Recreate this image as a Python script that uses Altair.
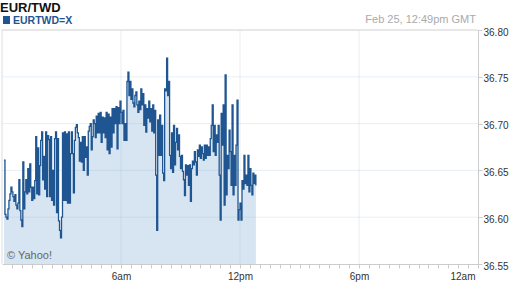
import altair as alt
import pandas as pd

# EUR/TWD intraday quotes, one every 3 minutes from 00:06 GMT
values = [
    36.661, 36.603, 36.600, 36.598, 36.609, 36.618, 36.625, 36.632, 36.627, 36.622,  # x3-12
    36.617, 36.624, 36.613, 36.609, 36.615, 36.640, 36.607, 36.597, 36.590, 36.659,  # x13-22
    36.609, 36.627, 36.640, 36.625, 36.652, 36.627, 36.657, 36.632, 36.618, 36.632,  # x23-32
    36.620, 36.639, 36.686, 36.625, 36.674, 36.624, 36.655, 36.682, 36.691, 36.640,  # x33-42
    36.665, 36.630, 36.691, 36.622, 36.687, 36.683, 36.622, 36.686, 36.618, 36.650,  # x43-52
    36.613, 36.684, 36.691, 36.605, 36.684, 36.596, 36.586, 36.578, 36.600, 36.690,  # x53-62
    36.618, 36.691, 36.618, 36.689, 36.615, 36.691, 36.615, 36.668, 36.691, 36.668,  # x63-72
    36.626, 36.682, 36.696, 36.699, 36.690, 36.685, 36.660, 36.680, 36.659, 36.686,  # x73-82
    36.650, 36.686, 36.664, 36.675, 36.645, 36.692, 36.697, 36.700, 36.672, 36.686,  # x83-92
    36.704, 36.700, 36.685, 36.708, 36.690, 36.711, 36.690, 36.712, 36.680, 36.707,  # x93-102
    36.690, 36.706, 36.685, 36.712, 36.672, 36.710, 36.668, 36.707, 36.675, 36.716,  # x103-112
    36.690, 36.716, 36.700, 36.718, 36.673, 36.717, 36.700, 36.724, 36.712, 36.700,  # x113-122
    36.714, 36.682, 36.700, 36.682, 36.745, 36.755, 36.730, 36.745, 36.726, 36.737,  # x123-132
    36.722, 36.718, 36.730, 36.734, 36.720, 36.712, 36.724, 36.715, 36.737, 36.720,  # x133-142
    36.732, 36.698, 36.720, 36.691, 36.716, 36.706, 36.724, 36.702, 36.716, 36.692,  # x143-152
    36.720, 36.690, 36.714, 36.645, 36.586, 36.704, 36.666, 36.709, 36.666, 36.698,  # x153-162
    36.647, 36.639, 36.737, 36.735, 36.770, 36.730, 36.745, 36.666, 36.652, 36.690,  # x163-172
    36.648, 36.698, 36.656, 36.680, 36.695, 36.672, 36.688, 36.665, 36.652, 36.666,  # x173-182
    36.649, 36.640, 36.623, 36.656, 36.645, 36.655, 36.634, 36.656, 36.617, 36.652,  # x183-192
    36.660, 36.656, 36.670, 36.659, 36.645, 36.672, 36.665, 36.677, 36.663, 36.675,  # x193-202
    36.668, 36.661, 36.677, 36.663, 36.677, 36.666, 36.675, 36.666, 36.684, 36.698,  # x203-212
    36.720, 36.670, 36.698, 36.666, 36.688, 36.680, 36.698, 36.645, 36.597, 36.711,  # x213-222
    36.677, 36.720, 36.613, 36.752, 36.624, 36.666, 36.652, 36.693, 36.670, 36.634,  # x223-232
    36.720, 36.624, 36.666, 36.634, 36.677, 36.725, 36.597, 36.608, 36.615, 36.597,  # x233-242
    36.639, 36.630, 36.666, 36.636, 36.645, 36.634, 36.666, 36.627, 36.652, 36.634,  # x243-252
    36.624, 36.647, 36.636, 36.645, 36.634,                                          # x253-257
]
minutes = [3 * (i + 2) for i in range(len(values))]
hours = [m / 60 for m in minutes]

y_ticks = [36.55, 36.60, 36.65, 36.70, 36.75, 36.80]
y_grid = [36.60, 36.65, 36.70, 36.75]
x_grid_hours = [6, 12, 18]
x_tick_hours = [k / 2 for k in range(1, 49)]
BASE = 36.55

FONT = "Liberation Sans"
LINE = "#1f5591"
FILL = "#d6e5f1"

df = pd.DataFrame({"h": hours, "v": values})

xs = alt.Scale(domain=[0, 24], nice=False, zero=False)
ys = alt.Scale(domain=[36.55, 36.80], nice=False, zero=False)

label_expr = ("datum.value == 6 ? '6am' : datum.value == 12 ? '12pm' : "
              "datum.value == 18 ? '6pm' : datum.value == 24 ? '12am' : ''")

x_axis = alt.Axis(values=x_tick_hours, labelExpr=label_expr, grid=False,
                  domainColor="#cccccc", tickColor="#cccccc", tickSize=4,
                  labelFontSize=10, labelColor="#333333", labelPadding=3,
                  labelFont=FONT, labelOverlap=False, labelFlush=True,
                  labelFlushOffset=-3, title=None)
y_axis = alt.Axis(orient="right", values=y_ticks, format=".2f", grid=False,
                  domainColor="#cccccc", tickColor="#cccccc", tickSize=4,
                  labelFontSize=10, labelColor="#333333", labelPadding=1,
                  labelFont=FONT, labelOffset=2, title=None)

area = alt.Chart(df).mark_area(interpolate="step-after", color=FILL).encode(
    x=alt.X("h:Q", scale=xs, axis=x_axis),
    y=alt.Y("v:Q", scale=ys, axis=y_axis),
    y2=alt.datum(BASE),
)

hgrid = alt.Chart(pd.DataFrame({"v": y_grid})).mark_rule(
    color="#96b4d2", opacity=0.22, strokeWidth=1
).encode(y=alt.Y("v:Q", scale=ys, axis=y_axis))

vgrid = alt.Chart(pd.DataFrame({"h": x_grid_hours})).mark_rule(
    color="#96b4d2", opacity=0.22, strokeWidth=1
).encode(x=alt.X("h:Q", scale=xs, axis=x_axis))

one = pd.DataFrame({"a": [0]})

top_frame = alt.Chart(one).mark_rule(color="#d0d0d0", strokeWidth=1).encode(
    x=alt.value(0), x2=alt.value(476), y=alt.value(0))
left_frame = alt.Chart(one).mark_rule(color="#dddddd", strokeWidth=1).encode(
    x=alt.value(0), y=alt.value(0), y2=alt.value(234))

line = alt.Chart(df).mark_line(interpolate="step-after", color=LINE, strokeWidth=1.3).encode(
    x=alt.X("h:Q", scale=xs, axis=x_axis),
    y=alt.Y("v:Q", scale=ys, axis=y_axis),
)

title = alt.Chart(one).mark_text(
    text="EUR/TWD", align="left", baseline="alphabetic", font=FONT,
    fontSize=13, fontWeight="bold", color="#111111"
).encode(x=alt.value(-2), y=alt.value(-18))

square = alt.Chart(one).mark_rect(color=LINE).encode(
    x=alt.value(1), x2=alt.value(8), y=alt.value(-14), y2=alt.value(-6))

symbol = alt.Chart(one).mark_text(
    text="EURTWD=X", align="left", baseline="alphabetic", font=FONT,
    fontSize=10.5, fontWeight="bold", color=LINE
).encode(x=alt.value(11), y=alt.value(-6))

stamp = alt.Chart(one).mark_text(
    text="Feb 25, 12:49pm GMT", align="right", baseline="alphabetic", font=FONT,
    fontSize=11, color="#aaaaaa"
).encode(x=alt.value(474), y=alt.value(-7))

credit = alt.Chart(one).mark_text(
    text="\u00a9 Yahoo!", align="left", baseline="alphabetic", font=FONT,
    fontSize=11, color="#666666"
).encode(x=alt.value(5), y=alt.value(229))

chart = alt.layer(
    area, hgrid, vgrid, top_frame, left_frame, line, title, square, symbol, stamp, credit
).properties(
    width=476, height=234,
    autosize=alt.AutoSizeParams(type="none"),
    padding={"left": 2, "top": 30, "right": 34, "bottom": 24},
    background="white",
).configure_view(stroke=None)

chart.save("out.html", embed_options={"renderer": "svg", "actions": False})
